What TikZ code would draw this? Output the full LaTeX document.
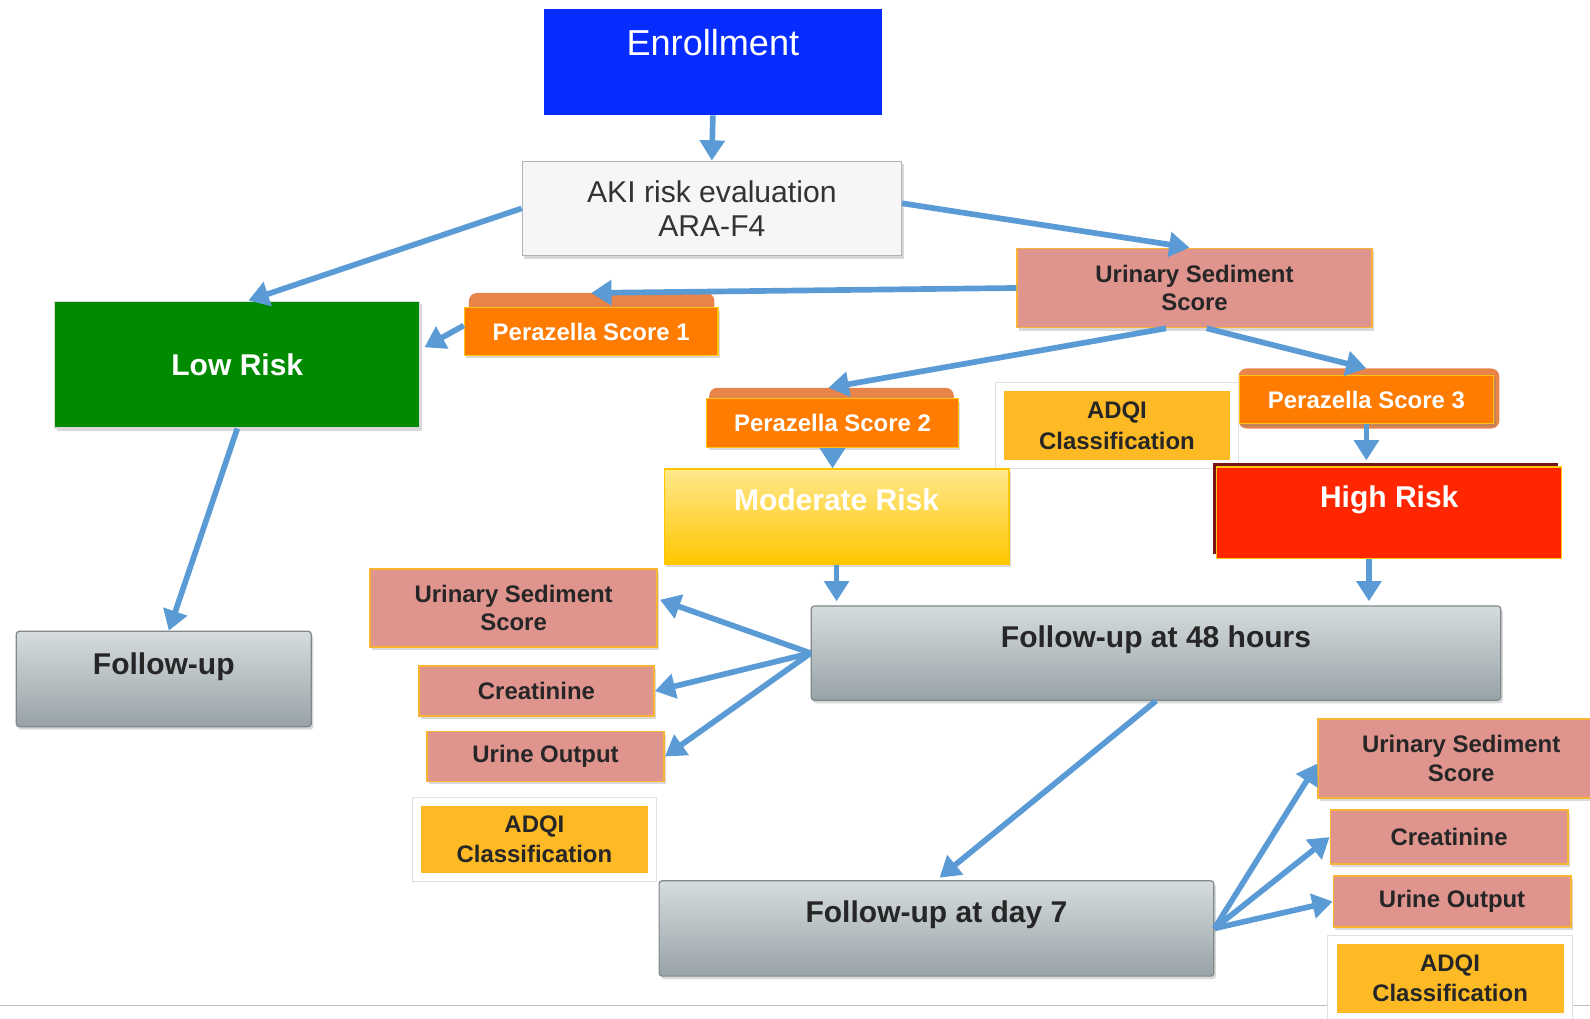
\documentclass[tikz,border=0pt]{standalone}
\usepackage{fontspec}
\setmainfont{Liberation Sans}
\usetikzlibrary{arrows.meta,calc,shadows,backgrounds}

\definecolor{enrollblue}{RGB}{6,44,255}
\definecolor{akifill}{RGB}{246,246,246}
\definecolor{akiline}{RGB}{170,178,186}
\definecolor{sedpink}{RGB}{224,148,142}
\definecolor{sedline}{RGB}{248,180,50}
\definecolor{perorange}{RGB}{255,124,0}
\definecolor{pertab}{RGB}{232,132,74}
\definecolor{peredge}{RGB}{255,196,20}
\definecolor{adqiyellow}{RGB}{253,186,36}
\definecolor{lowgreen}{RGB}{0,138,0}
\definecolor{modtop}{RGB}{255,232,140}
\definecolor{modbottom}{RGB}{255,198,0}
\definecolor{highred}{RGB}{255,38,0}
\definecolor{highshade}{RGB}{120,20,20}
\definecolor{grytop}{RGB}{214,220,222}
\definecolor{grybottom}{RGB}{152,163,167}
\definecolor{gryline}{RGB}{128,136,140}
\definecolor{arrowblue}{RGB}{91,155,213}
\definecolor{txtdark}{RGB}{38,38,38}

\tikzset{
  box/.style={rectangle, inner sep=0pt, align=center},
  shady/.style={drop shadow={opacity=0.3, shadow xshift=1pt, shadow yshift=-1.5pt}},
  smallbold/.style={font=\fontsize{11.8}{14}\selectfont\bfseries},
  bigbold/.style={font=\fontsize{14.8}{17}\selectfont\bfseries},
  sediment/.style={box, shady, smallbold, fill=sedpink, draw=sedline, line width=0.8pt, text=txtdark},
  perazella/.style={box, shady, smallbold, fill=perorange, draw=peredge, line width=0.6pt, text=white},
  adqi/.style={box, font=\fontsize{11.8}{15}\selectfont\bfseries, fill=adqiyellow, text=txtdark,
    preaction={draw=black!12, line width=5pt}, draw=white, line width=4pt},
  followup/.style={box, shady, bigbold, top color=grytop, bottom color=grybottom, draw=gryline,
    line width=0.6pt, rounded corners=1.5pt, text=txtdark},
  flow/.style={draw=arrowblue, line width=2.8pt, -{Triangle[length=10pt,width=12pt]}}
}

\begin{document}
\begin{tikzpicture}[x=0.5pt,y=-0.5pt]
  \useasboundingbox (0,0) rectangle (1568,1004);

  \node[box, font=\fontsize{17.8}{20}\selectfont, fill=enrollblue, text=white, minimum width=167pt,
    text height=23.3pt, text depth=29.2pt, anchor=north] (enroll) at (703,8) {Enrollment};
  \node[box, shady, font=\fontsize{14.85}{17}\selectfont, fill=akifill, draw=akiline, line width=0.6pt,
    text=black!80, minimum width=187pt, minimum height=46.5pt] (aki) at (702,205.5) {AKI risk evaluation\\ARA-F4};
  \node[sediment, minimum width=175pt, minimum height=39pt] (us1) at (1178,284) {Urinary Sediment\\Score};
  \node[perazella, minimum width=125pt, minimum height=23.5pt] (ps1) at (583,327) {Perazella Score 1};
  \node[box, shady, bigbold, fill=lowgreen, draw=black!15, line width=0.6pt, text=white,
    minimum width=180pt, minimum height=62.5pt] (low) at (234,359.5) {Low Risk};
  \node[perazella, minimum width=124pt, minimum height=24pt] (ps2) at (821,417) {Perazella Score 2};
  \node[adqi, minimum width=115pt, minimum height=38pt] (adqi1) at (1101.5,420) {ADQI\\Classification};
  \node[perazella, minimum width=125.5pt, minimum height=24pt] (ps3) at (1347.5,394) {Perazella Score 3};
  \node[box, shady, bigbold, top color=modtop, bottom color=modbottom, draw=modbottom, line width=0.6pt,
    text=white, minimum width=170pt, text height=20.3pt, text depth=26.7pt, anchor=north] (mod) at (825,462) {Moderate Risk};
  \node[box, bigbold, fill=highred, draw=peredge, line width=0.6pt, text=white,
    general shadow={fill=highshade, rounded corners=3pt, shadow xshift=-2pt, shadow yshift=2pt},
    minimum width=170pt, text height=19.8pt, text depth=25.2pt, anchor=north] (high) at (1370,460) {High Risk};
  \node[followup, minimum width=340pt, text height=20.3pt, text depth=26.2pt, anchor=north] (f48) at (1140,597) {Follow-up at 48 hours};
  \node[followup, minimum width=145.5pt, text height=21.3pt, text depth=25.7pt, anchor=north] (fu) at (161.5,622) {Follow-up};
  \node[sediment, minimum width=141.5pt, minimum height=38.5pt] (us2) at (506.5,599.5) {Urinary Sediment\\Score};
  \node[sediment, minimum width=116pt, minimum height=24.5pt] (cr2) at (529,681.5) {Creatinine};
  \node[sediment, minimum width=117pt, minimum height=24.5pt] (uo2) at (538,746) {Urine Output};
  \node[adqi, minimum width=116pt, minimum height=37pt] (adqi2) at (527,827.5) {ADQI\\Classification};
  \node[followup, minimum width=273.5pt, text height=20.8pt, text depth=26.2pt, anchor=north] (d7) at (923.5,868) {Follow-up at day 7};
  \node[sediment, minimum width=141pt, minimum height=39pt] (us3) at (1441,748) {Urinary Sediment\\Score};
  \node[sediment, minimum width=117pt, minimum height=26.5pt] (cr3) at (1429,825.5) {Creatinine};
  \node[sediment, minimum width=117pt, minimum height=25pt] (uo3) at (1432,889) {Urine Output};
  \node[adqi, minimum width=116pt, minimum height=38pt] (adqi3) at (1430,965) {ADQI\\Classification};

  \begin{scope}[on background layer]
    \draw[black!25, line width=0.5pt] (0,992) -- (1568,992);
    \fill[pertab, rounded corners=4pt] ([xshift=2.5pt,yshift=7pt]ps1.north west) rectangle ([xshift=-2pt]ps1.south east);
    \fill[pertab, rounded corners=4pt] ([xshift=1.5pt,yshift=5pt]ps2.north west) rectangle ([xshift=-2.5pt]ps2.south east);
    \fill[pertab, rounded corners=4pt] ([yshift=3pt]ps3.north west) rectangle ([xshift=2.5pt,yshift=-2pt]ps3.south east);
  \end{scope}

  \coordinate (hs) at ($(high.south)+(-20,0)$);
  \draw[flow] (enroll.south) -- (aki.north);
  \draw[flow] (aki.west) -- ($(low.north)+(11,0)$);
  \draw[flow] ($(aki.east)+(0,-5)$) -- ($(us1.north)+(-5,0)$);
  \draw[flow] (us1.west) -- ([yshift=7pt]ps1.north);
  \draw[flow] ($(ps1.west)+(0,-6)$) -- ($(low.east)+(4,-17)$);
  \draw[flow] ($(us1.south)+(-28,0)$) -- ([xshift=-2pt,yshift=5pt]ps2.north);
  \draw[flow] ($(us1.south)+(12,0)$) -- ([yshift=3pt]ps3.north);
  \draw[flow] (ps2.south) -- (ps2.south |- mod.north);
  \draw[flow, shorten >=3pt] (ps3.south) -- (ps3.south |- high.north);
  \draw[flow, shorten >=2pt] (mod.south) -- (mod.south |- f48.north);
  \draw[flow, shorten >=2pt] (hs) -- (hs |- f48.north);
  \draw[flow] (low.south) -- ($(fu.north)+(5,0)$);
  \draw[flow] (f48.west) -- ($(us2.east)+(2,-8)$);
  \draw[flow] (f48.west) -- (cr2.east);
  \draw[flow] (f48.west) -- (uo2.east);
  \draw[flow, shorten >=2pt] (f48.south) -- (d7.north);
  \draw[flow] (d7.east) -- ($(us3.west)+(0,5)$);
  \draw[flow] (d7.east) -- (cr3.west);
  \draw[flow] (d7.east) -- (uo3.west);
\end{tikzpicture}
\end{document}
